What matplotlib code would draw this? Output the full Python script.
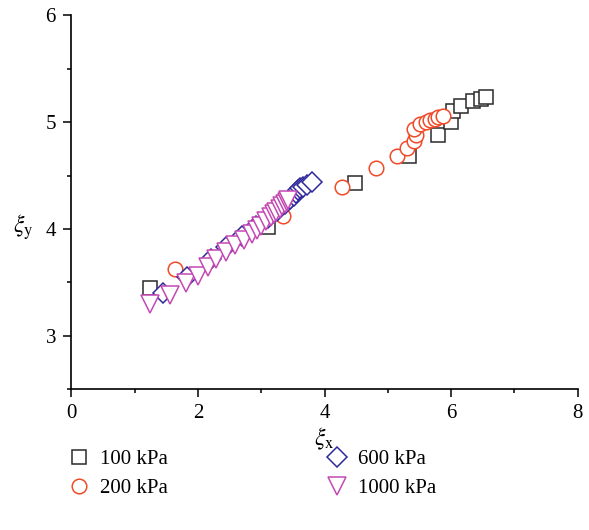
import numpy as np
import matplotlib
matplotlib.use("Agg")
import matplotlib.pyplot as plt
from matplotlib.ticker import MultipleLocator

plt.rcParams['font.family'] = ['Liberation Serif', 'DejaVu Serif']
plt.rcParams['mathtext.fontset'] = 'stix'

# data
x100 = [1.24, 3.10, 4.48, 5.33, 5.79, 6.00, 6.03, 6.16, 6.34, 6.47, 6.55]
y100 = [3.45, 4.02, 4.43, 4.68, 4.88, 5.00, 5.10, 5.15, 5.20, 5.22, 5.24]

x200 = [1.64, 3.34, 4.28, 4.82, 5.14, 5.31, 5.42, 5.44, 5.42, 5.51, 5.60, 5.66, 5.74, 5.79, 5.87]
y200 = [3.62, 4.12, 4.39, 4.57, 4.68, 4.76, 4.82, 4.88, 4.94, 4.98, 5.00, 5.02, 5.03, 5.05, 5.06]

x600 = [1.45, 1.82, 2.20, 2.45, 2.70, 2.92, 3.10, 3.25, 3.38, 3.46, 3.51, 3.55, 3.58, 3.62, 3.66, 3.72, 3.80]
y600 = [3.40, 3.55, 3.72, 3.83, 3.93, 4.03, 4.10, 4.17, 4.23, 4.28, 4.31, 4.34, 4.36, 4.38, 4.39, 4.41, 4.44]

x1000 = [1.25, 1.56, 1.81, 2.00, 2.16, 2.29, 2.44, 2.58, 2.73, 2.85, 2.93, 3.00, 3.08, 3.15,
         3.20, 3.24, 3.29, 3.33, 3.37, 3.40, 3.43]
y1000 = [3.30, 3.38, 3.49, 3.56, 3.64, 3.72, 3.78, 3.85, 3.90, 3.95, 3.99, 4.03, 4.07, 4.11,
         4.14, 4.16, 4.19, 4.21, 4.23, 4.25, 4.27]

labels = ['100 kPa', '200 kPa', '600 kPa', '1000 kPa']

fig = plt.figure(figsize=(5.89, 5.30), dpi=100)
ax = fig.add_axes([0.121, 0.266, 0.860, 0.705])

# hollow-looking markers with white fill (they hide each other in the original)
kw = dict(linestyle='none', markerfacecolor='white', markeredgewidth=1.1)
h1, = ax.plot(x100, y100, marker='s', markersize=9.5, markeredgecolor='#2a2a2a', label=labels[0], **kw)
h2, = ax.plot(x200, y200, marker='o', markersize=10.5, markeredgecolor='#f04a28', label=labels[1], **kw)
h3, = ax.plot(x600, y600, marker='D', markersize=10, markeredgecolor='#2e2a9c', label=labels[2], **kw)
h4, = ax.plot(x1000, y1000, marker='v', markersize=13, markeredgecolor='#c448b4', label=labels[3], **kw)

ax.set_xlim(0, 8)
ax.set_ylim(2.5, 6)
ax.xaxis.set_major_locator(MultipleLocator(2))
ax.xaxis.set_minor_locator(MultipleLocator(1))
ax.yaxis.set_major_locator(MultipleLocator(1))
ax.yaxis.set_minor_locator(MultipleLocator(0.5))
ax.spines['top'].set_visible(False)
ax.spines['right'].set_visible(False)
for s in ['left', 'bottom']:
    ax.spines[s].set_linewidth(1.2)
ax.tick_params(which='major', direction='out', length=6, width=1.1, labelsize=15, pad=5)
ax.tick_params(which='minor', direction='out', length=3, width=1.1)

ax.set_xlabel(r'$\xi_\mathrm{x}$', fontsize=17, labelpad=2)
ax.set_ylabel(r'$\xi_\mathrm{y}$', fontsize=17, rotation=0, ha='center', va='center')
ax.yaxis.set_label_coords(-0.095, 0.434)

fig.legend(handles=[h1, h2, h3, h4], loc='upper left', bbox_to_anchor=(0.085, 0.187),
           ncol=2, frameon=False, fontsize=15, handlelength=1.0, handletextpad=0.5,
           columnspacing=7.6, labelspacing=0.45)

plt.savefig('out.png', dpi=100)
